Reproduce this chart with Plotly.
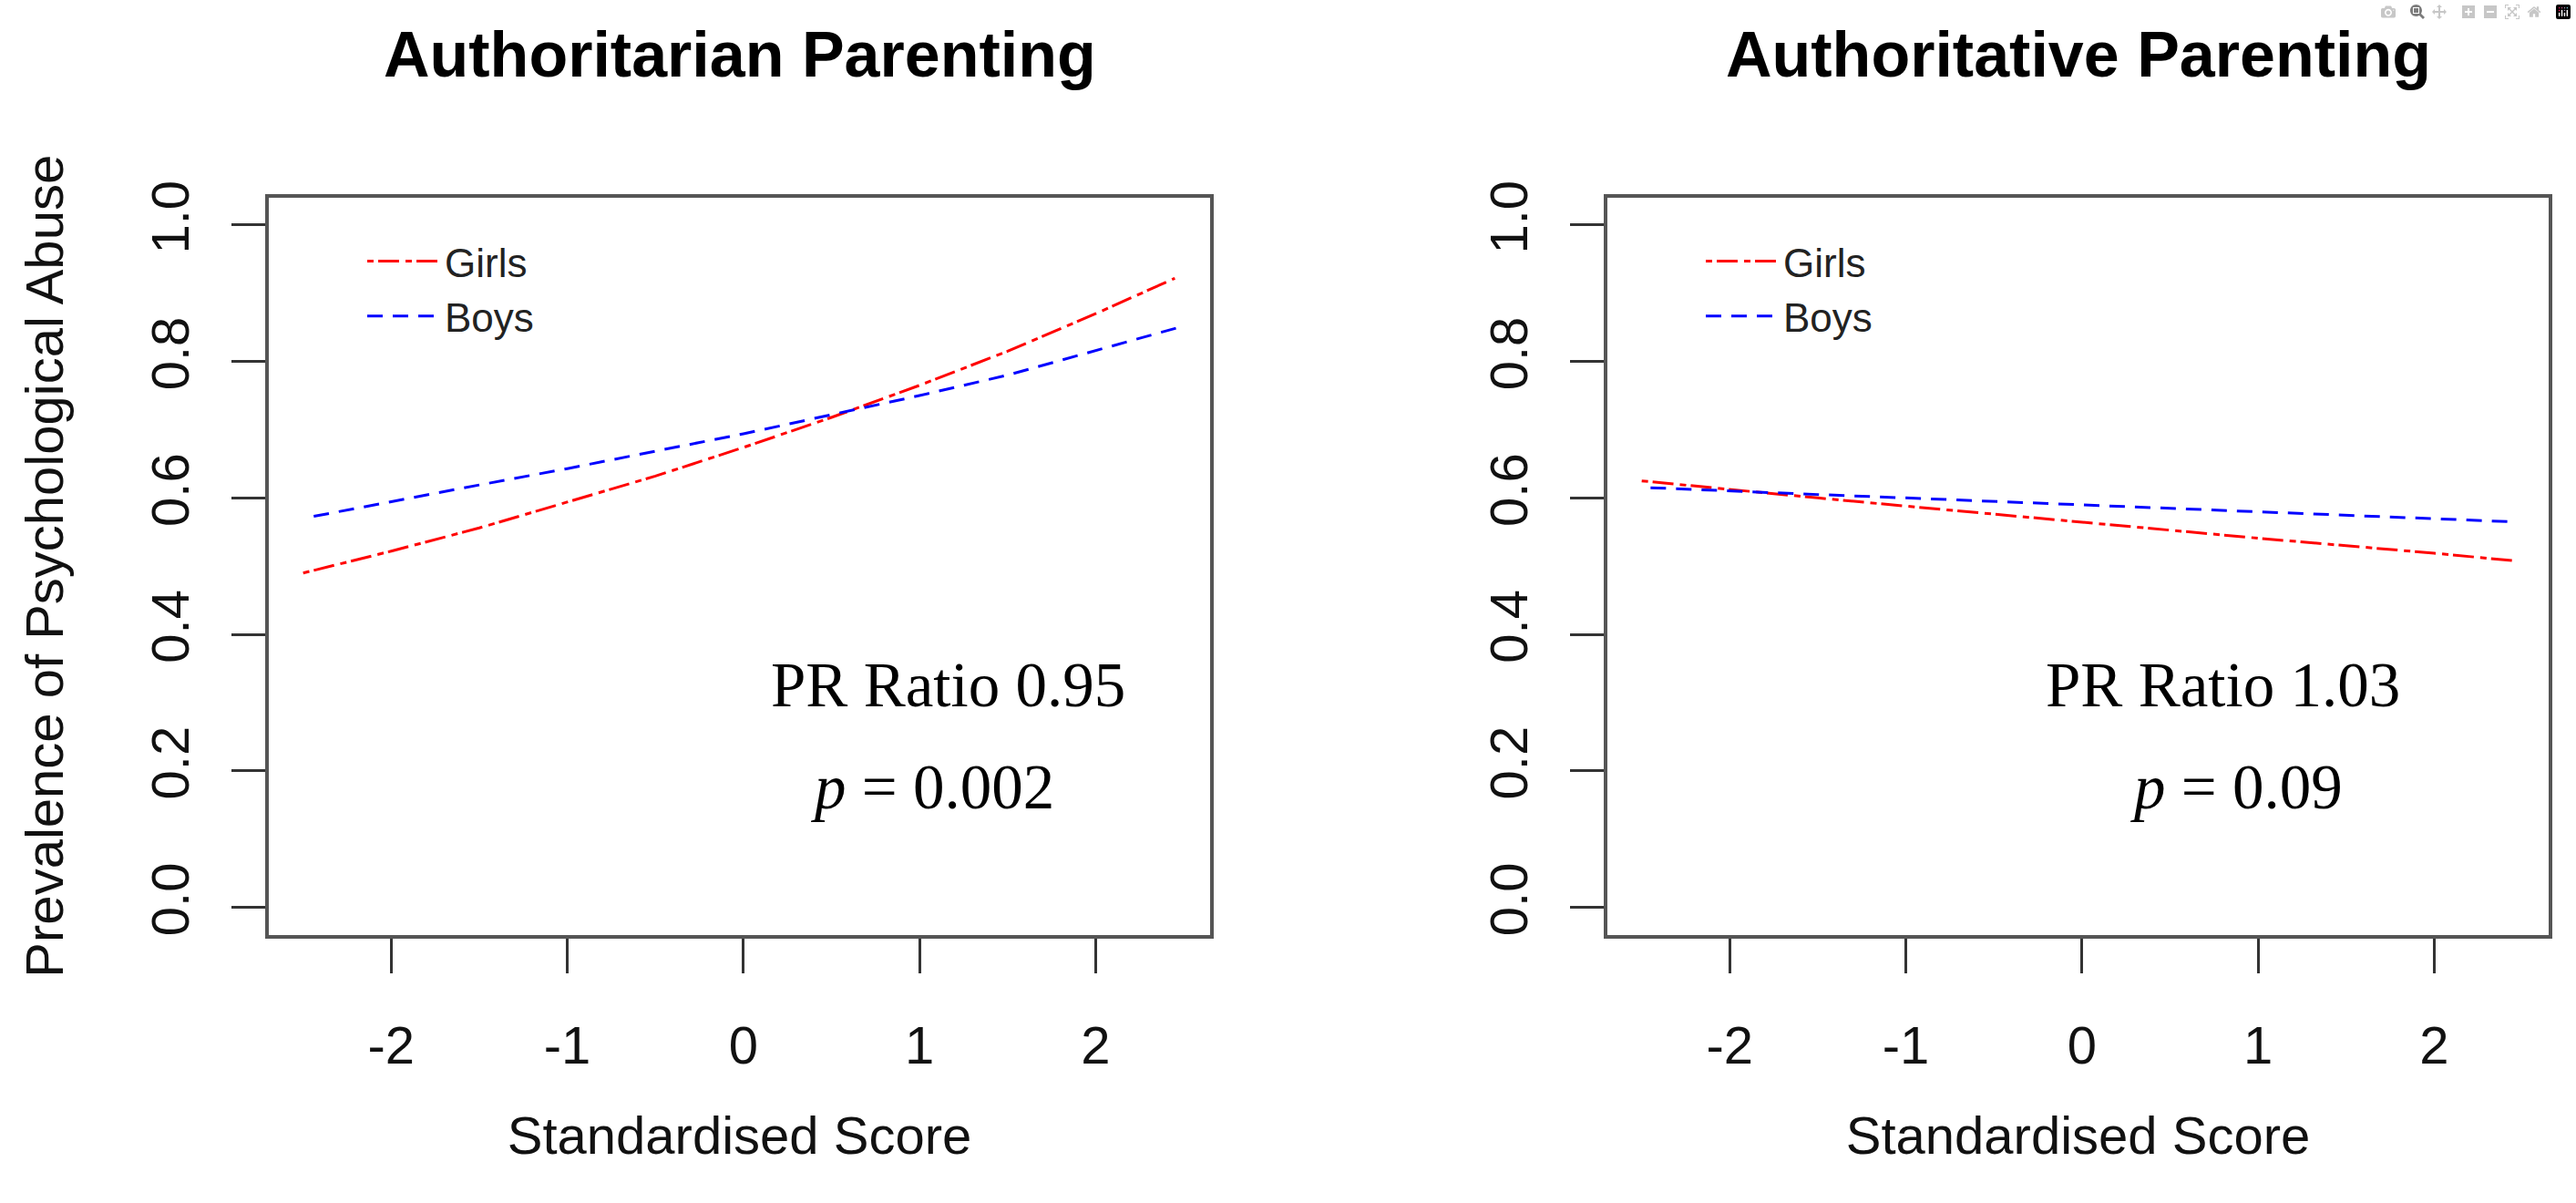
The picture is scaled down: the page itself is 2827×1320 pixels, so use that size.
import plotly.graph_objects as go

# ---- data ----
x_ticks = [-2, -1, 0, 1, 2]
y_ticks = [0.0, 0.2, 0.4, 0.6, 0.8, 1.0]

# Authoritarian parenting
auth_girls_x = [-2.5, -2.0, -1.5, -1.0, -0.5, 0.0, 0.5, 1.0, 1.5, 2.0, 2.45]
auth_girls_y = [0.490, 0.522, 0.556, 0.594, 0.632, 0.674, 0.718, 0.765, 0.815, 0.870, 0.922]
auth_boys_x = [-2.44, -2.0, -1.5, -1.0, -0.5, 0.0, 0.5, 1.0, 1.5, 2.0, 2.5]
auth_boys_y = [0.573, 0.595, 0.619, 0.643, 0.668, 0.694, 0.722, 0.750, 0.780, 0.816, 0.852]

# Authoritative parenting
autv_girls_x = [-2.5, -2.0, -1.5, -1.0, -0.5, 0.0, 0.5, 1.0, 1.5, 2.0, 2.45]
autv_girls_y = [0.625, 0.612, 0.600, 0.588, 0.576, 0.564, 0.552, 0.541, 0.530, 0.519, 0.508]
autv_boys_x = [-2.45, -2.0, -1.5, -1.0, -0.5, 0.0, 0.5, 1.0, 1.5, 2.0, 2.45]
autv_boys_y = [0.615, 0.610, 0.605, 0.600, 0.595, 0.590, 0.585, 0.580, 0.575, 0.570, 0.565]

panel_titles = ["Authoritarian Parenting", "Authoritative Parenting"]
pr_texts = ["PR Ratio 0.95", "PR Ratio 1.03"]
p_texts = ["<i>p</i> = 0.002", "<i>p</i> = 0.09"]
series_names = ["Girls", "Boys"]

# ---- styling ----
W, H = 2827, 1320
SANS = "Liberation Sans, Arial, sans-serif"
SERIF = "Liberation Serif, Times New Roman, serif"
RED, BLUE = "#FF0000", "#0000FF"
GIRLS_DASH = "7px,5px,23px,7px"
BOYS_DASH = "17px,11px"

def px_x(p):
    return p / W

def px_y(p):
    return 1 - p / H

fig = go.Figure()

panels = [
    (auth_girls_x, auth_girls_y, auth_boys_x, auth_boys_y, "x", "y", "legend"),
    (autv_girls_x, autv_girls_y, autv_boys_x, autv_boys_y, "x2", "y2", "legend2"),
]
for gx, gy, bx, by, xa, ya, lg in panels:
    fig.add_trace(go.Scatter(x=gx, y=gy, mode="lines", name=series_names[0],
                             line=dict(color=RED, width=3, dash=GIRLS_DASH),
                             xaxis=xa, yaxis=ya, legend=lg))
    fig.add_trace(go.Scatter(x=bx, y=by, mode="lines", name=series_names[1],
                             line=dict(color=BLUE, width=3, dash=BOYS_DASH),
                             xaxis=xa, yaxis=ya, legend=lg))

xdoms = [[px_x(295), px_x(1328)], [px_x(1764), px_x(2797)]]
ydom = [px_y(1022), px_y(201)]

axis_common = dict(
    showgrid=False, zeroline=False, showline=True, mirror=True,
    linecolor="#555555", linewidth=4,
    ticks="outside", tickcolor="#333333", tickwidth=3,
    tickfont=dict(family=SANS, size=58, color="#111111"),
)

for i, (xa, ya) in enumerate([("xaxis", "yaxis"), ("xaxis2", "yaxis2")]):
    fig.layout[xa] = dict(
        axis_common, domain=xdoms[i], range=[-2.695, 2.65],
        tickmode="array", tickvals=x_ticks, ticktext=[str(v) for v in x_ticks],
        ticklen=38, ticklabelstandoff=30,
        anchor="y" if i == 0 else "y2",
        title=dict(text="Standardised Score", font=dict(family=SANS, size=58, color="#111111"),
                   standoff=48),
    )
    fig.layout[ya] = dict(
        axis_common, domain=ydom, range=[-0.04, 1.04],
        tickmode="array", tickvals=y_ticks, ticktext=[f"{v:.1f}" for v in y_ticks],
        tickangle=-90, ticklen=37, ticklabelstandoff=24,
        anchor="x" if i == 0 else "x2",
        title=dict(text="Prevalence of Psychological Abuse" if i == 0 else "",
                   font=dict(family=SANS, size=58, color="#111111"), standoff=66),
    )

legend_common = dict(
    font=dict(family=SANS, size=44, color="#222222"),
    bgcolor="rgba(0,0,0,0)", borderwidth=0,
    xanchor="left", yanchor="top",
    tracegroupgap=0, itemwidth=80,
)
fig.update_layout(
    legend=dict(legend_common, x=px_x(398), y=px_y(236)),
    legend2=dict(legend_common, x=px_x(1867), y=px_y(236)),
)

annotations = []
title_centers = [811.5, 2280.5]
for i in range(2):
    annotations.append(dict(
        text=f"<b>{panel_titles[i]}</b>", x=px_x(title_centers[i]), y=px_y(42),
        xref="paper", yref="paper", xanchor="center", yanchor="middle",
        showarrow=False, font=dict(family=SANS, size=70, color="#000000")))

pr_pos = [(1.162, 0.325), (0.80, 0.325)]
p_pos = [(1.07, 0.176), (0.877, 0.176)]
for i in range(2):
    xr, yr = ("x", "y") if i == 0 else ("x2", "y2")
    annotations.append(dict(
        text=pr_texts[i], x=pr_pos[i][0], y=pr_pos[i][1], xref=xr, yref=yr,
        xanchor="center", yanchor="middle", showarrow=False,
        font=dict(family=SERIF, size=69, color="#000000")))
    annotations.append(dict(
        text=p_texts[i], x=p_pos[i][0], y=p_pos[i][1], xref=xr, yref=yr,
        xanchor="center", yanchor="middle", showarrow=False,
        font=dict(family=SERIF, size=69, color="#000000")))

fig.update_layout(
    width=W, height=H, autosize=False,
    margin=dict(l=0, r=0, t=0, b=0, pad=0),
    paper_bgcolor="white", plot_bgcolor="white",
    showlegend=True,
    annotations=annotations,
)

fig.write_html("out.html", post_script="document.body.style.margin='0';document.body.style.overflow='hidden';")
